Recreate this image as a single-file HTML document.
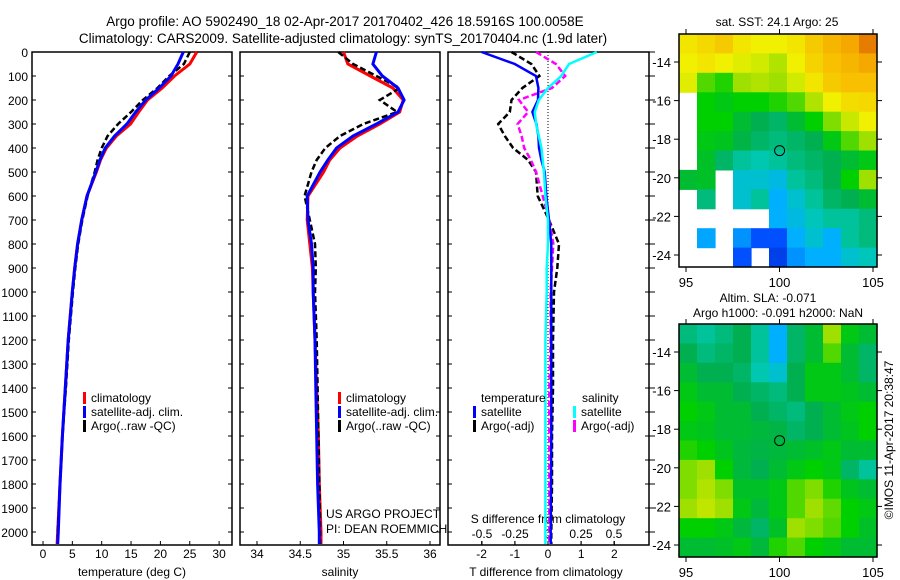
<!DOCTYPE html>
<html><head><meta charset="utf-8"><style>
html,body{margin:0;padding:0;background:#fff;}
svg{display:block;font-family:"Liberation Sans",sans-serif;}
</style></head><body>
<svg id="fig" width="900" height="580" viewBox="0 0 900 580" xmlns="http://www.w3.org/2000/svg">
<text x="345" y="26" font-size="13.5" text-anchor="middle">Argo profile: AO 5902490_18 02-Apr-2017 20170402_426 18.5916S 100.0058E</text>
<text x="343" y="43" font-size="13.5" text-anchor="middle">Climatology: CARS2009. Satellite-adjusted climatology: synTS_20170404.nc (1.9d later)</text>
<g id="g"></g>
</svg>
<script>
// ---- profile data ----
const depths = [0,50,100,150,200,250,300,350,400,450,500,600,700,800,900,1000,1200,1400,1600,1800,2000,2050];
const tempClim = [26.2,25.0,22.4,20.3,17.8,16.3,14.9,12.5,10.8,9.8,9.1,7.5,6.6,5.9,5.4,5.0,4.3,3.8,3.3,2.9,2.5,2.4];
const tempSat = [23.9,23.0,21.8,19.8,17.5,15.8,14.3,12.2,10.6,9.7,9.0,7.5,6.6,5.9,5.4,5.0,4.3,3.8,3.3,2.9,2.6,2.5];
const tempArgo = [25.0,24.0,21.5,19.5,17.0,15.0,12.8,11.0,10.0,9.3,8.8,7.6,6.7,6.0,5.5,5.1,4.4,3.9,3.3,2.9,2.5,2.5];
const salClim = [35.0,35.05,35.31,35.57,35.69,35.65,35.42,35.16,34.96,34.84,34.77,34.59,34.58,34.61,34.64,34.65,34.67,34.69,34.71,34.72,34.74,34.74];
const salSat = [35.38,35.34,35.45,35.63,35.7,35.63,35.38,35.11,34.92,34.82,34.73,34.58,34.59,34.63,34.65,34.65,34.67,34.68,34.69,34.70,34.72,34.72];
const salArgo = [34.94,35.11,35.38,35.65,35.42,35.62,35.23,34.96,34.79,34.69,34.63,34.55,34.61,34.67,34.68,34.67,34.69,34.7,34.71,34.72,34.73,34.73];
const tDiffSat = [-2.0,-1.0,-0.36,-0.29,-0.30,-0.47,-0.35,-0.29,-0.27,-0.2,-0.1,-0.05,0.03,0.1,0.1,0.1,0.1,0.1,0.1,0.09,0.08,0.08];
const tDiffArgo = [-1.1,-0.5,-0.26,-0.77,-1.1,-1.15,-1.5,-1.3,-1.05,-0.6,-0.36,-0.31,0.03,0.33,0.28,0.18,0.15,0.15,0.12,0.12,0.1,0.1];
const sDiffSat = [0.37,0.16,0.1,0.0,-0.07,-0.1,-0.09,-0.07,-0.05,-0.04,-0.03,-0.02,0.0,0.0,-0.01,-0.01,-0.02,-0.02,-0.02,-0.02,-0.02,-0.02];
const sDiffArgo = [-0.09,0.06,0.13,0.03,-0.22,-0.15,-0.23,-0.2,-0.18,-0.13,-0.09,-0.04,0.01,0.04,0.03,0.02,0.02,0.01,0.01,0.01,0.01,0.01];
const depthTicks = [0,100,200,300,400,500,600,700,800,900,1000,1100,1200,1300,1400,1500,1600,1700,1800,1900,2000];
const tempTicks = [0,5,10,15,20,25,30];
const salTicks = [34,34.5,35,35.5,36];
const tdTicks = [-2,-1,0,1,2];
const sdTicks = [-0.5,-0.25,0,0.25,0.5];
// ---- map data (rows lat -13..-24, cols lon ~95..105), colour index 0..1, -1 missing ----
const sstGrid = [
[0.72,0.75,0.78,0.72,0.70,0.70,0.72,0.78,0.82,0.85,0.92],
[0.70,0.72,0.70,0.68,0.66,0.62,0.70,0.76,0.80,0.82,0.85],
[0.68,0.55,0.52,0.60,0.62,0.60,0.66,0.72,0.78,0.80,0.80],
[-1,0.50,0.48,0.50,0.50,0.52,0.55,0.62,0.70,0.74,0.75],
[-1,0.50,0.50,0.45,0.42,0.40,0.45,0.50,0.58,0.65,0.70],
[-1,0.48,0.47,0.43,0.40,0.38,0.40,0.42,0.48,0.55,0.60],
[-1,0.46,0.40,0.35,0.33,0.35,0.38,0.40,0.42,0.45,0.48],
[0.45,0.46,-1,0.30,0.30,0.28,0.35,0.38,0.42,0.50,0.60],
[-1,0.38,-1,0.30,0.35,0.25,0.30,0.35,0.40,0.42,0.45],
[-1,-1,-1,-1,-1,0.25,0.28,0.32,0.35,0.35,0.38],
[-1,0.24,-1,0.22,0.15,0.15,0.25,0.30,0.25,0.35,0.38],
[-1,-1,-1,0.15,-1,0.12,0.22,0.25,0.25,0.30,0.32]];
const slaGrid = [
[0.38,0.35,0.38,0.42,0.35,0.25,0.40,0.45,0.60,0.48,0.45],
[0.42,0.38,0.40,0.42,0.35,0.25,0.40,0.45,0.55,0.45,0.40],
[0.45,0.42,0.42,0.40,0.33,0.30,0.42,0.48,0.48,0.45,0.40],
[0.48,0.45,0.45,0.42,0.40,0.38,0.42,0.48,0.48,0.47,0.45],
[0.50,0.48,0.45,0.45,0.42,0.40,0.38,0.42,0.45,0.48,0.50],
[0.48,0.47,0.45,0.45,0.44,0.43,0.40,0.42,0.45,0.47,0.50],
[0.52,0.50,0.47,0.44,0.43,0.44,0.45,0.46,0.48,0.45,0.45],
[0.58,0.60,0.50,0.44,0.42,0.45,0.48,0.50,0.48,0.40,0.35],
[0.58,0.62,0.58,0.46,0.46,0.48,0.55,0.58,0.52,0.47,0.45],
[0.60,0.64,0.60,0.48,0.44,0.48,0.55,0.60,0.56,0.50,0.48],
[0.50,0.50,0.48,0.44,0.40,0.46,0.60,0.58,0.55,0.50,0.46],
[0.45,0.45,0.46,0.48,0.44,0.52,0.55,0.50,0.48,0.45,0.45]];
const latTicks = [-14,-16,-18,-20,-22,-24];
const lonTicks = [95,100,105];

const NS = "http://www.w3.org/2000/svg";
const G = document.getElementById('g');
function mk(tag, attrs, parent){const e=document.createElementNS(NS,tag);for(const k in attrs)e.setAttribute(k,attrs[k]);(parent||G).appendChild(e);return e;}
function txt(x,y,s,anchor,size,parent){const t=mk('text',{x:x,y:y,'font-size':size||12,'text-anchor':anchor||'middle'},parent);t.textContent=s;return t;}

const TOP=52, BOT=545;
const yD = d => TOP + d*0.24;
function panel(x0,x1,name){
  const r=mk('rect',{x:x0,y:TOP,width:x1-x0,height:BOT-TOP,fill:'none',stroke:'#000','stroke-width':1.5});
  
  
  depthTicks.forEach(d=>{const y=yD(d);mk('line',{x1:x0,x2:x0+4,y1:y,y2:y,stroke:'#000'});mk('line',{x1:x1-4,x2:x1,y1:y,y2:y,stroke:'#000'});});
}
function line(xs,ds,fx,color,w,dash,name){
  const pts=xs.map((v,i)=>fx(v).toFixed(1)+','+yD(ds[i]).toFixed(1)).join(' ');
  const p=mk('polyline',{points:pts,fill:'none',stroke:color,'stroke-width':w,'stroke-dasharray':dash||'none'});
  
  
}
function legend(x,y,items){
  items.forEach((it,i)=>{mk('rect',{x:x,y:y+i*14-10,width:3,height:12,fill:it[0]});txt(x+8,y+i*14,it[1],'start',12);});
}

// Panel 1: temperature
const xT = v => 43 + v*5.87;
panel(32,232,'temperature-panel');
depthTicks.forEach(d=>{const t=txt(28,yD(d)+5,String(d),'end',12);});
tempTicks.forEach(v=>{mk('line',{x1:xT(v),x2:xT(v),y1:BOT-4,y2:BOT,stroke:'#000'});txt(xT(v),558,String(v));});
txt(132,576,'temperature (deg C)');
line(tempClim,depths,xT,'#f00',3,null,'temp-climatology-line');
line(tempArgo,depths,xT,'#000',2.5,'6,3','temp-argo-line');
line(tempSat,depths,xT,'#0000ff',3,null,'temp-satellite-line');
legend(83,402,[['#f00','climatology'],['#00f','satellite-adj. clim.'],['#000','Argo(..raw -QC)']]);

// Panel 2: salinity
const xS = v => 257 + (v-34)*86.5;
panel(240,440,'salinity-panel');
salTicks.forEach(v=>{mk('line',{x1:xS(v),x2:xS(v),y1:BOT-4,y2:BOT,stroke:'#000'});txt(xS(v),558,String(v));});
txt(340,576,'salinity');
line(salClim,depths,xS,'#f00',3,null,'salinity-climatology-line');
line(salArgo,depths,xS,'#000',2.5,'6,3','salinity-argo-line');
line(salSat,depths,xS,'#0000ff',3,null,'salinity-satellite-line');
legend(338,402,[['#f00','climatology'],['#00f','satellite-adj. clim.'],['#000','Argo(..raw -QC)']]);
txt(326,518,'US ARGO PROJECT','start',12);
txt(326,533,'PI: DEAN ROEMMICH','start',12);

// Panel 3: differences
const xTD = v => 548 + v*33.2;
const xSD = v => 548 + v*132;
panel(448,649,'difference-panel');
depthTicks.forEach(d=>{const y=yD(d);mk('line',{x1:649,x2:655,y1:y,y2:y,stroke:'#000'});});
mk('line',{x1:548,x2:548,y1:TOP,y2:BOT,stroke:'#000','stroke-dasharray':'1,2'});
tdTicks.forEach(v=>{mk('line',{x1:xTD(v),x2:xTD(v),y1:BOT-4,y2:BOT,stroke:'#000'});txt(xTD(v),558,String(v));});
sdTicks.forEach(v=>{mk('line',{x1:xSD(v),x2:xSD(v),y1:BOT-4,y2:BOT,stroke:'#000'});txt(xSD(v),538,String(v));});
txt(548,523,'S difference from climatology');
txt(546,576,'T difference from climatology');
line(tDiffArgo,depths,xTD,'#000',2.5,'6,3','tdiff-argo-line');
line(sDiffArgo,depths,xSD,'#ff00ff',2.5,'6,3','sdiff-argo-line');
line(tDiffSat,depths,xTD,'#0000ff',2.5,null,'tdiff-satellite-line');
line(sDiffSat,depths,xSD,'#00ffff',2.5,null,'sdiff-satellite-line');
txt(481,402,'temperature','start',12);
legend(473,416,[['#00f','satellite'],['#000','Argo(-adj)']]);
txt(582,402,'salinity','start',12);
legend(573,416,[['#0ff','satellite'],['#f0f','Argo(-adj)']]);

// colormap
const cstops=[[0,[0,0,140]],[0.15,[0,80,255]],[0.25,[0,176,255]],[0.33,[0,200,176]],[0.42,[0,176,80]],[0.5,[0,208,0]],[0.6,[160,224,0]],[0.7,[240,240,0]],[0.8,[248,192,0]],[0.9,[240,144,0]],[1,[192,48,0]]];
function cmap(v){for(let i=1;i<cstops.length;i++){if(v<=cstops[i][0]){const a=cstops[i-1],b=cstops[i];const f=(v-a[0])/(b[0]-a[0]);const c=a[1].map((x,j)=>Math.round(x+(b[1][j]-x)*f));return 'rgb('+c.join(',')+')';}}return 'rgb(192,48,0)';}

function map(grid,top,bottom,name){
  const L=679,R=877;
  const lonX = lon => 686 + (lon-95)*18.7;
  const lat14 = top+28;
  const latY = lat => lat14 + (-14-lat)*19.3;
  const rows=grid.length, cols=grid[0].length;
  const cw=(R-L)/cols, ch=(bottom-top)/rows;
  grid.forEach((row,ri)=>row.forEach((v,ci)=>{
    if(v<0) return;
    const c=mk('rect',{x:(L+ci*cw).toFixed(1),y:(top+ri*ch).toFixed(1),width:(cw+0.6).toFixed(1),height:(ch+0.6).toFixed(1),fill:cmap(v)});
    
    
  }));
  const f=mk('rect',{x:L,y:top,width:R-L,height:bottom-top,fill:'none',stroke:'#000','stroke-width':1.5});
  
  
  latTicks.forEach(lat=>{const y=latY(lat);mk('line',{x1:L-5,x2:L,y1:y,y2:y,stroke:'#000'});mk('line',{x1:R,x2:R+5,y1:y,y2:y,stroke:'#000'});txt(L-8,y+5,String(lat),'end',13);});
  lonTicks.forEach(lon=>{const x=lonX(lon);mk('line',{x1:x,x2:x,y1:top-5,y2:top,stroke:'#000'});mk('line',{x1:x,x2:x,y1:bottom,y2:bottom+5,stroke:'#000'});txt(x,bottom+20,String(lon),'middle',13);});
  const m=mk('circle',{cx:lonX(100.0058),cy:latY(-18.5916),r:5,fill:'none',stroke:'#000','stroke-width':1});
  
  
}
map(sstGrid,34,267,'sst-map');
map(slaGrid,324,557,'sla-map');
txt(777,26,'sat. SST: 24.1  Argo: 25','middle',12);
txt(768,302,'Altim. SLA: -0.071','middle',12);
txt(778,317,'Argo h1000: -0.091 h2000: NaN','middle',12);
const cp=txt(0,0,'\u00a9IMOS 11-Apr-2017 20:38:47','middle',12);
cp.setAttribute('transform','translate(893,440) rotate(-90)');


</script>
</body></html>
